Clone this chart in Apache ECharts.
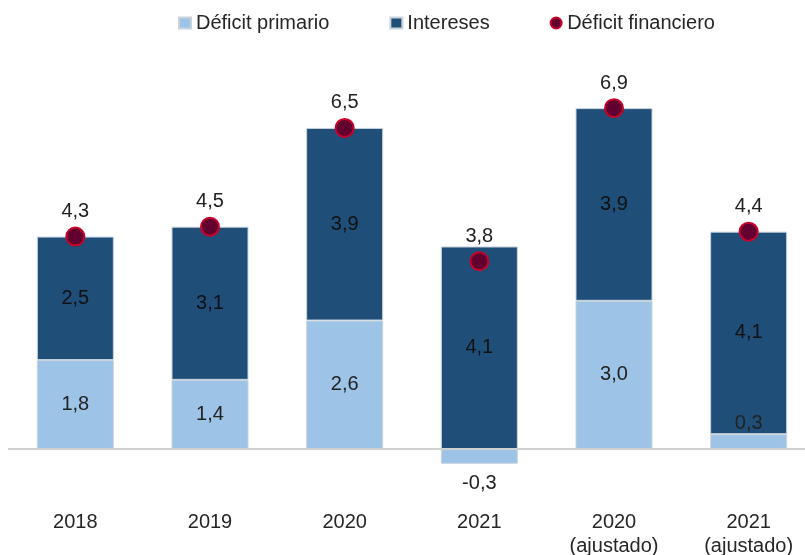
<!DOCTYPE html>
<html>
<head>
<meta charset="utf-8">
<script src="https://cdn.jsdelivr.net/npm/echarts@6/dist/echarts.min.js"></script>
<style>
  html, body { margin: 0; padding: 0; background: #fff; overflow: hidden; }
  /* a little wider than the window: the last bar's slot runs past the right edge in the original */
  #chart { width: 816px; height: 555px; }
</style>
</head>
<body>
<div id="chart"></div>
<script>
const categories = ['2018', '2019', '2020', '2021', '2020\n(ajustado)', '2021\n(ajustado)'];
const primario = [1.8, 1.4, 2.6, -0.3, 3.0, 0.3];
const intereses = [2.5, 3.1, 3.9, 4.1, 3.9, 4.1];
const financiero = [4.3, 4.5, 6.5, 3.8, 6.9, 4.4];

const fmt = v => v.toFixed(1).replace('.', ',');
const FONT = '"Liberation Sans", Arial, sans-serif';
const FS = 20;

const chart = echarts.init(document.getElementById('chart'));

// primary deficit: negative label goes below, tiny positive slice gets its label above
const primarioData = primario.map(v => {
  const item = { value: v };
  if (v < 0) {
    item.label = { position: 'bottom', distance: 10 };
  } else if (v < 0.5) {
    item.label = { position: 'top', distance: 1 };
  }
  return item;
});

const option = {
  backgroundColor: '#fff',
  animation: false,
  textStyle: { fontFamily: FONT },
  legend: {
    top: 8,
    left: 173,
    itemGap: 60,
    itemWidth: 12,
    itemHeight: 11,
    textStyle: { color: '#262626', fontSize: FS, fontFamily: FONT },
    data: [
      { name: 'Déficit primario', icon: 'rect' },
      { name: 'Intereses', icon: 'rect' },
      { name: 'Déficit financiero', icon: 'circle' }
    ]
  },
  grid: {
    left: 8,
    right: 0,
    top: 53.8,
    bottom: 56.6,
    outerBoundsMode: 'none'
  },
  xAxis: {
    type: 'category',
    data: categories,
    axisLine: { show: false, onZero: false },
    axisTick: { show: false },
    axisLabel: {
      color: '#262626',
      fontSize: FS,
      lineHeight: 24,
      margin: 12,
      fontFamily: FONT
    }
  },
  yAxis: {
    type: 'value',
    min: -1,
    max: 8,
    show: false,
    splitLine: { show: false }
  },
  series: [
    {
      name: 'Déficit primario',
      type: 'bar',
      stack: 'total',
      barWidth: 77,
      data: primarioData,
      itemStyle: { color: '#9dc3e6', borderColor: '#c9d3dc', borderWidth: 1 },
      label: {
        show: true,
        position: 'inside',
        color: '#222',
        fontSize: FS,
        fontFamily: FONT,
        formatter: p => fmt(p.value)
      },
      markLine: {
        silent: true,
        symbol: 'none',
        label: { show: false },
        lineStyle: { color: '#d0d0d0', type: 'solid', width: 2 },
        data: [{ yAxis: 0 }]
      },
      z: 2
    },
    {
      name: 'Intereses',
      type: 'bar',
      stack: 'total',
      barWidth: 77,
      data: intereses,
      itemStyle: { color: '#1f4e79', borderColor: '#c9d3dc', borderWidth: 1 },
      label: {
        show: true,
        position: 'inside',
        color: '#111',
        fontSize: FS,
        fontFamily: FONT,
        formatter: p => fmt(p.value)
      },
      z: 2
    },
    {
      name: 'Déficit financiero',
      type: 'scatter',
      data: financiero,
      symbol: 'circle',
      symbolSize: 18,
      itemStyle: { color: '#620030', borderColor: '#c8002a', borderWidth: 2, opacity: 1 },
      label: {
        show: true,
        position: 'top',
        distance: 5,
        color: '#222',
        fontSize: FS,
        fontFamily: FONT,
        formatter: p => fmt(p.value)
      },
      z: 5
    }
  ]
};

chart.setOption(option);
</script>
</body>
</html>
